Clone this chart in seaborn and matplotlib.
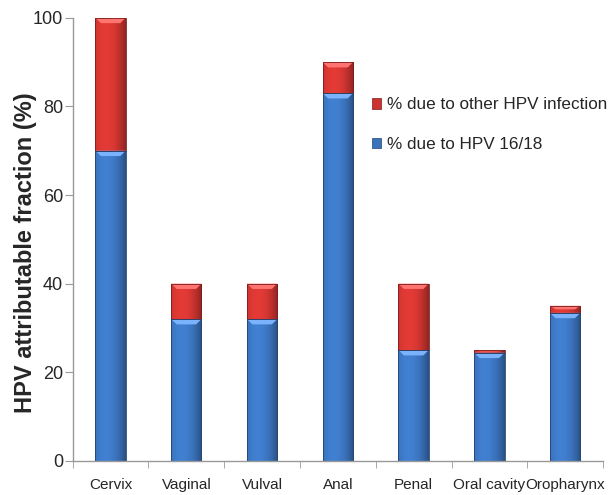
import matplotlib
matplotlib.use("Agg")
import matplotlib.pyplot as plt
import matplotlib.patches as mpatches
import seaborn as sns
import numpy as np
import pandas as pd

# Data
sites = ["Cervix", "Vaginal", "Vulval", "Anal", "Penal", "Oral cavity", "Oropharynx"]
hpv_16_18 = [70, 32, 32, 83, 25, 24.4, 33.4]
other_hpv = [30, 8, 8, 7, 15, 0.6, 1.6]

total = [a + b for a, b in zip(hpv_16_18, other_hpv)]
df = pd.DataFrame({"site": sites, "hpv": hpv_16_18, "total": total})

sns.set_style("white")
plt.rcParams["font.family"] = ["Liberation Sans", "DejaVu Sans"]

RED = "#cc3430"
BLUE = "#3a72bb"

fig = plt.figure(figsize=(6.16, 4.95), dpi=100)
ax = fig.add_axes([0.118, 0.069, 0.861, 0.895])

sns.barplot(data=df, x="site", y="total", color=RED, width=0.4,
            saturation=1, ax=ax, edgecolor="none")
sns.barplot(data=df, x="site", y="hpv", color=BLUE, width=0.4,
            saturation=1, ax=ax, edgecolor="none")


# shaded "cylinder" look for every bar segment
def shade(patch, base):
    x0, y0 = patch.get_x(), patch.get_y()
    w, h = patch.get_width(), patch.get_height()
    if h <= 0:
        return
    c = np.array(matplotlib.colors.to_rgb(base))
    t = np.linspace(0, 1, 64)
    prof = 1.12 - 0.45 * (t - 0.35) ** 2 * 2.2
    prof = np.clip(prof, 0.6, 1.15)
    row = np.clip(c[None, :] * prof[:, None], 0, 1)
    img = np.repeat(row[None, :, :], 2, axis=0)
    im = ax.imshow(img, extent=[x0, x0 + w, y0, y0 + h], aspect="auto",
                   zorder=patch.get_zorder() + 0.1, interpolation="bilinear")
    im.set_clip_path(patch)
    # light bevel at the top of the segment
    bev = min(1.2, h * 0.5)
    top = np.clip(c + 0.25, 0, 1)
    ax.add_patch(mpatches.Polygon(
        [[x0, y0 + h], [x0 + w, y0 + h], [x0 + w * 0.82, y0 + h - bev],
         [x0 + w * 0.18, y0 + h - bev]],
        closed=True, facecolor=top, edgecolor="none",
        zorder=patch.get_zorder() + 0.2))
    ax.add_patch(mpatches.Rectangle((x0, y0), w, h, fill=False,
                                    edgecolor=np.clip(c * 0.6, 0, 1),
                                    linewidth=0.6,
                                    zorder=patch.get_zorder() + 0.3))


n = len(sites)
for i, p in enumerate(ax.patches[:n]):
    # red segment only from blue top upward
    p.set_y(hpv_16_18[i])
    p.set_height(other_hpv[i])
for p in list(ax.patches[:n]):
    shade(p, RED)
for p in list(ax.patches[n:2 * n]):
    shade(p, BLUE)

ax.set_xlim(-0.5, n - 0.5)
ax.set_ylim(0, 100)
ax.set_yticks([0, 20, 40, 60, 80, 100])
ax.set_xlabel("")
ax.set_ylabel("HPV attributable fraction (%)", fontsize=17,
              fontweight="bold", labelpad=-3)
ax.yaxis.label.set_y(0.47)

for s in ["top", "right"]:
    ax.spines[s].set_visible(False)
for s in ["left", "bottom"]:
    ax.spines[s].set_color("#999999")
    ax.spines[s].set_linewidth(1)

ax.tick_params(axis="y", which="major", left=True, length=6, color="#999999",
               labelsize=13, pad=1)
ax.tick_params(axis="x", which="major", bottom=False, labelsize=11, pad=9)
ax.set_xticks(np.arange(-0.5, n, 1), minor=True)
ax.tick_params(axis="x", which="minor", bottom=True, length=5, color="#999999")

handles = [mpatches.Patch(facecolor=RED, edgecolor="#7a1a18", linewidth=0.5,
                          label="% due to other HPV infection"),
           mpatches.Patch(facecolor=BLUE, edgecolor="#1e4478", linewidth=0.5,
                          label="% due to HPV 16/18")]
ax.legend(handles=handles, loc="upper left", bbox_to_anchor=(0.535, 0.855),
          frameon=False, fontsize=12.3, handlelength=0.55, handleheight=0.55,
          handletextpad=0.35, labelspacing=1.45)

fig.savefig("out.png", dpi=100)
